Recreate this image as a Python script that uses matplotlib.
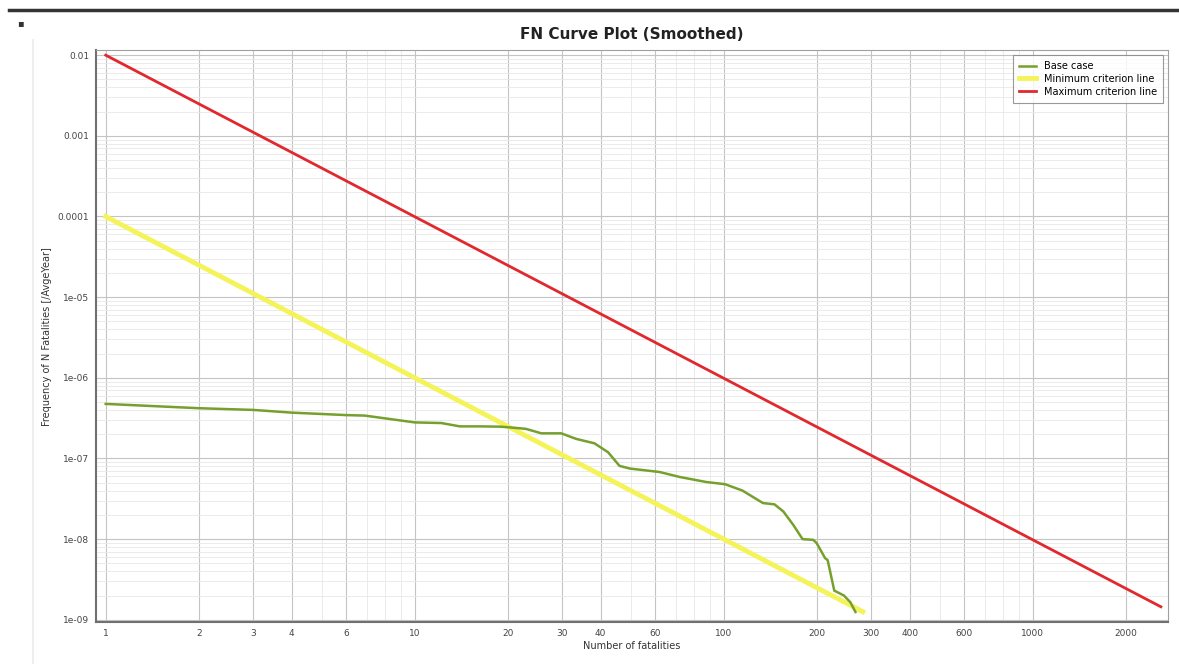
import matplotlib
matplotlib.use("Agg")
import matplotlib.pyplot as plt
from matplotlib.ticker import FixedLocator, NullFormatter
from matplotlib.lines import Line2D

# data
base_n = [1, 2, 3, 4, 6, 6.9, 10, 12.2, 14, 16.2, 18.9, 20, 22.9, 25.7, 29.8, 33.3, 38.2,
          42.3, 46, 49.7, 62, 72, 88, 101, 115, 134, 146, 156, 168, 180, 195, 200,
          213, 217, 228, 245, 257, 267]
base_f = [4.75e-7, 4.2e-7, 4.0e-7, 3.7e-7, 3.45e-7, 3.4e-7, 2.8e-7, 2.75e-7, 2.5e-7, 2.5e-7,
          2.48e-7, 2.44e-7, 2.33e-7, 2.05e-7, 2.05e-7, 1.75e-7, 1.54e-7,
          1.19e-7, 8.1e-8, 7.5e-8, 6.8e-8, 5.9e-8, 5.1e-8, 4.8e-8, 4.0e-8, 2.8e-8, 2.7e-8,
          2.2e-8, 1.5e-8, 1.0e-8, 9.8e-9, 8.9e-9, 5.8e-9, 5.5e-9, 2.3e-9, 2.0e-9, 1.65e-9, 1.25e-9]
min_n = [1, 282]
min_f = [1e-4, 1.26e-9]
max_n = [1, 2600]
max_f = [1e-2, 1.45e-9]

x_ticks = [1, 2, 3, 4, 6, 10, 20, 30, 40, 60, 100, 200, 300, 400, 600, 1000, 2000]
x_minor = [5, 7, 8, 9, 50, 70, 80, 90, 500, 700, 800, 900]
y_ticks = [1e-2, 1e-3, 1e-4, 1e-5, 1e-6, 1e-7, 1e-8, 1e-9]
y_labels = ["0.01", "0.001", "0.0001", "1e-05", "1e-06", "1e-07", "1e-08", "1e-09"]

fig = plt.figure(figsize=(11.79, 6.64), dpi=100)
ax = fig.add_axes([0.0814, 0.0633, 0.909, 0.861])

ax.plot(base_n, base_f, color="#76a02e", lw=1.8, label="Base case", zorder=4)
ax.plot(min_n, min_f, color="#f4f45a", lw=3.5, label="Minimum criterion line", zorder=3)
ax.plot(max_n, max_f, color="#e0282e", lw=2.0, label="Maximum criterion line", zorder=3)

ax.set_xscale("log")
ax.set_yscale("log")
ax.set_xlim(0.93, 2735)
ax.set_ylim(9.4e-10, 0.0115)

ax.xaxis.set_major_locator(FixedLocator(x_ticks))
ax.xaxis.set_minor_locator(FixedLocator(x_minor))
ax.set_xticklabels([str(v) for v in x_ticks])
ax.xaxis.set_minor_formatter(NullFormatter())

minor_y = []
for d in range(-10, -1):
    for k in range(2, 10):
        minor_y.append(k * 10.0 ** d)
ax.yaxis.set_major_locator(FixedLocator(y_ticks))
ax.yaxis.set_minor_locator(FixedLocator(minor_y))
ax.set_yticklabels(y_labels)
ax.yaxis.set_minor_formatter(NullFormatter())

ax.tick_params(which="both", length=0, labelsize=6.5, labelcolor="#444444", pad=5)
ax.grid(which="major", color="#c4c4c4", lw=0.8)
ax.grid(which="minor", color="#e8e8e8", lw=0.6)
ax.set_axisbelow(True)

for s in ["top", "right"]:
    ax.spines[s].set_color("#a0a0a0")
for s in ["left", "bottom"]:
    ax.spines[s].set_color("#707070")
    ax.spines[s].set_linewidth(1.5)

ax.set_xlabel("Number of fatalities", fontsize=7, color="#333333", labelpad=2)
ax.set_ylabel("Frequency of N Fatalities [/AvgeYear]", fontsize=7, color="#333333", labelpad=4)
ax.set_title("FN Curve Plot (Smoothed)", fontsize=11, fontweight="bold", color="#222222", pad=8)

leg = ax.legend(loc="upper right", fontsize=7, frameon=True, fancybox=False,
                borderaxespad=0.5, handlelength=1.8, labelspacing=0.3, borderpad=0.6)
leg.get_frame().set_edgecolor("#808080")
leg.get_frame().set_linewidth(0.8)

# window chrome from the screenshot
fig.add_artist(Line2D([0.008, 1.0], [0.985, 0.985], color="#333333", lw=2.5))
fig.add_artist(Line2D([0.028, 0.028], [0.0, 0.94], color="#eeeeee", lw=1.5))
fig.text(0.017, 0.965, "\u25aa", fontsize=7, color="#333333", ha="center", va="center")

fig.savefig("out.png", dpi=100)
